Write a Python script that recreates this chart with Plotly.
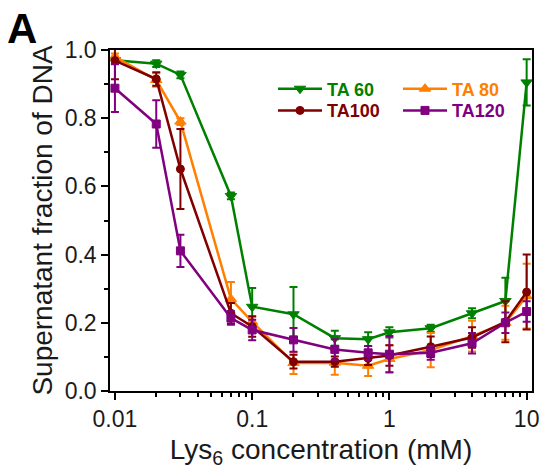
import plotly.graph_objects as go

conc = [0.01, 0.02, 0.03, 0.07, 0.1, 0.2, 0.4, 0.7, 1, 2, 4, 7, 10]

ta60 = [0.970, 0.960, 0.927, 0.572, 0.247, 0.225, 0.155, 0.152, 0.172, 0.184, 0.228, 0.264, 0.905]
ta60_err = [0.010, 0.010, 0.010, 0.010, 0.055, 0.080, 0.022, 0.020, 0.015, 0.010, 0.015, 0.068, 0.068]

ta80 = [0.980, 0.912, 0.790, 0.270, 0.203, 0.082, 0.083, 0.074, 0.094, 0.120, 0.161, 0.200, 0.278]
ta80_err = [0.010, 0.020, 0.010, 0.050, 0.015, 0.032, 0.035, 0.030, 0.040, 0.050, 0.045, 0.050, 0.095]

ta100 = [0.969, 0.915, 0.651, 0.228, 0.189, 0.086, 0.086, 0.096, 0.104, 0.130, 0.157, 0.203, 0.290]
ta100_err = [0.055, 0.020, 0.117, 0.030, 0.030, 0.020, 0.015, 0.020, 0.030, 0.030, 0.030, 0.060, 0.110]

ta120 = [0.888, 0.783, 0.411, 0.214, 0.179, 0.150, 0.122, 0.112, 0.108, 0.112, 0.140, 0.200, 0.233]
ta120_err = [0.070, 0.070, 0.047, 0.020, 0.030, 0.035, 0.030, 0.020, 0.053, 0.020, 0.030, 0.030, 0.030]

series = [
    ("TA 60", ta60, ta60_err, "#008000", "triangle-down", 10, "legend"),
    ("TA 80", ta80, ta80_err, "#FF8000", "triangle-up", 10, "legend2"),
    ("TA100", ta100, ta100_err, "#800000", "circle", 8, "legend3"),
    ("TA120", ta120, ta120_err, "#800080", "square", 8, "legend4"),
]

x_ticks = [0.01, 0.1, 1, 10]
x_ticktext = ["0.01", "0.1", "1", "10"]
x_minor = [m * d for d in (0.01, 0.1, 1) for m in range(2, 10)]

FONT = "Liberation Sans, Arial, sans-serif"

fig = go.Figure()
for name, vals, err, col, sym, ms, leg in series:
    fig.add_trace(go.Scatter(
        x=conc, y=vals,
        mode="lines+markers",
        name=f"<span style='color:{col}'><b>{name}</b></span>",
        line=dict(color=col, width=2.5),
        marker=dict(color=col, symbol=sym, size=ms, line=dict(color=col, width=1)),
        error_y=dict(type="data", array=err, visible=True, color=col, thickness=2, width=4),
        legend=leg,
    ))


def leg(x, y):
    return dict(x=x, y=y, xanchor="left", yanchor="middle", xref="paper", yref="paper",
                bgcolor="rgba(0,0,0,0)", font=dict(size=18, family=FONT),
                itemwidth=44)


# plot area: x 110..532, y 50..391
row1 = 1 - (89 - 50) / 341
row2 = 1 - (110.7 - 50) / 341
col1 = (273 - 110) / 422
col2 = (398 - 110) / 422

fig.update_layout(
    width=541, height=469,
    margin=dict(l=110, r=9, t=50, b=78, autoexpand=False),
    paper_bgcolor="white", plot_bgcolor="white",
    font=dict(family=FONT, color="#1a1a1a"),
    showlegend=True,
    legend=leg(col1, row1),
    legend2=leg(col2, row1),
    legend3=leg(col1, row2),
    legend4=leg(col2, row2),
    annotations=[dict(text="<b>A</b>", x=(5 - 110) / 422, y=1 + (50 - 3) / 341,
                      xref="paper", yref="paper", xanchor="left", yanchor="top",
                      showarrow=False, font=dict(size=42, family=FONT, color="black"))],
)

fig.update_xaxes(
    type="log", range=[-2.036, 1.039], automargin=False,
    tickvals=x_ticks, ticktext=x_ticktext,
    ticks="outside", ticklen=7, tickwidth=1.5, tickcolor="black",
    minor=dict(tickvals=x_minor, ticks="outside", ticklen=4, tickwidth=1.5, tickcolor="black"),
    showline=True, linecolor="black", linewidth=1.5, mirror=True,
    showgrid=False, zeroline=False,
    tickfont=dict(size=23, family=FONT, color="#1a1a1a"),
    title=dict(text="Lys<sub>6</sub> concentration (mM)", font=dict(size=28, family=FONT, color="#1a1a1a"), standoff=8),
)
fig.update_yaxes(
    range=[0, 1.0], dtick=0.2, tick0=0, tickformat=".1f", automargin=False,
    ticks="outside", ticklen=7, tickwidth=1.5, tickcolor="black",
    minor=dict(dtick=0.1, ticks="outside", ticklen=4, tickwidth=1.5, tickcolor="black"),
    showline=True, linecolor="black", linewidth=1.5, mirror=True,
    showgrid=False, zeroline=False,
    tickfont=dict(size=23, family=FONT, color="#1a1a1a"),
    title=dict(text="Supernatant fraction of DNA", font=dict(size=28, family=FONT, color="#1a1a1a"), standoff=4),
)

fig.write_html("out.html", config={"displayModeBar": False},
               post_script="document.body.style.margin='0';")
